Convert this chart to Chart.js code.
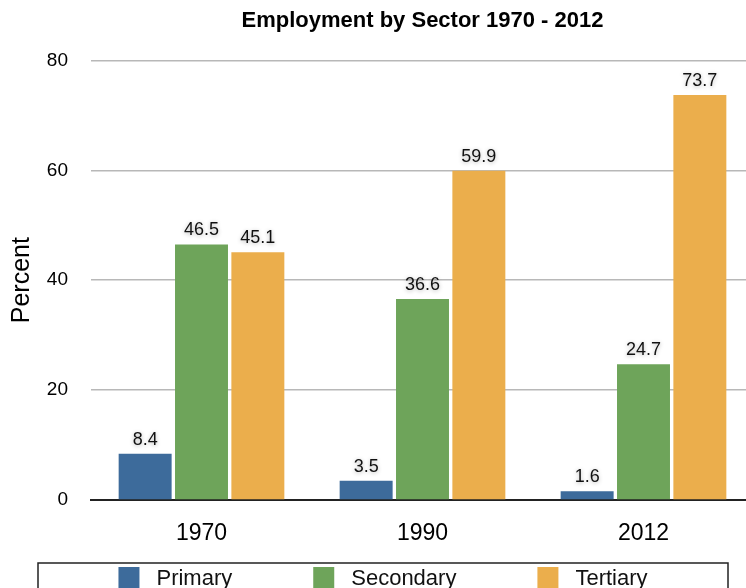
<!DOCTYPE html>
<html>
<head>
<meta charset="utf-8">
<script src="https://cdn.jsdelivr.net/npm/chart.js@4.4.1/dist/chart.umd.min.js"></script>
<style>
  html, body { margin: 0; padding: 0; overflow: hidden; background: #fff; }
  canvas { display: block; }
</style>
</head>
<body>
<canvas id="grafico" width="760" height="588"></canvas>
<script>
const years = ['1970', '1990', '2012'];
const sectors = ['Primary', 'Secondary', 'Tertiary'];
const primary = [8.4, 3.5, 1.6];
const secondary = [46.5, 36.6, 24.7];
const tertiary = [45.1, 59.9, 73.7];
const colores = ['#3d6b9b', '#6ea45a', '#ebae4c'];
const yTicks = [0, 20, 40, 60, 80];

const FONT = '"Liberation Sans", Arial, Helvetica, sans-serif';

// etiquetas de valor encima de cada barra
const valueLabels = {
    id: 'valueLabels',
    afterDatasetsDraw(chart) {
        const ctx = chart.ctx;
        ctx.save();
        ctx.font = '18px ' + FONT;
        ctx.fillStyle = '#111';
        ctx.textAlign = 'center';
        ctx.textBaseline = 'alphabetic';
        ctx.shadowColor = 'rgba(0,0,0,0.3)';
        ctx.shadowBlur = 4;
        ctx.shadowOffsetY = 1;
        chart.data.datasets.forEach((ds, i) => {
            chart.getDatasetMeta(i).data.forEach((bar, j) => {
                ctx.fillText(ds.data[j].toFixed(1), bar.x, bar.y - 9);
            });
        });
        ctx.restore();
    }
};

// leyenda con recuadro abajo
const boxLegend = {
    id: 'boxLegend',
    afterDraw(chart) {
        const ctx = chart.ctx;
        const left = 38, right = 728, top = 563;
        const box = 21, gap = 17, spacing = 81;
        ctx.save();
        ctx.strokeStyle = '#222';
        ctx.lineWidth = 1.5;
        ctx.strokeRect(left, top, right - left, 60);
        ctx.font = '22px ' + FONT;
        const widths = chart.data.datasets.map(ds => box + gap + ctx.measureText(ds.label).width);
        const total = widths.reduce((a, b) => a + b, 0) + spacing * (widths.length - 1);
        let x = (left + right) / 2 - total / 2;
        chart.data.datasets.forEach((ds, i) => {
            ctx.fillStyle = ds.backgroundColor;
            ctx.fillRect(x, top + 4, box, box);
            ctx.fillStyle = '#111';
            ctx.textAlign = 'left';
            ctx.textBaseline = 'middle';
            ctx.fillText(ds.label, x + box + gap, top + 16);
            x += widths[i] + spacing;
        });
        ctx.restore();
    }
};

const ctx = document.getElementById('grafico').getContext('2d');
new Chart(ctx, {
    type: 'bar',
    data: {
        labels: years,
        datasets: [
            { label: sectors[0], data: primary, backgroundColor: colores[0] },
            { label: sectors[1], data: secondary, backgroundColor: colores[1] },
            { label: sectors[2], data: tertiary, backgroundColor: colores[2] }
        ]
    },
    options: {
        responsive: false,
        animation: false,
        devicePixelRatio: 1,
        categoryPercentage: 0.765,
        barPercentage: 0.94,
        layout: { padding: { left: 0, right: 6, top: 0, bottom: 0 } },
        plugins: {
            legend: { display: false },
            tooltip: { enabled: false },
            title: {
                display: true,
                text: 'Employment by Sector 1970 - 2012',
                fullSize: false,
                color: '#000',
                font: { family: FONT, size: 22, weight: 'bold' },
                padding: { top: 8, bottom: 26 }
            }
        },
        scales: {
            x: {
                grid: { display: false },
                border: { display: true, color: '#222', width: 2 },
                ticks: { color: '#000', padding: 12, font: { family: FONT, size: 23 } },
                afterFit(scale) { scale.height = 88; }
            },
            y: {
                min: 0,
                max: 80,
                afterBuildTicks(scale) { scale.ticks = yTicks.map(v => ({ value: v })); },
                grid: {
                    drawTicks: false,
                    lineWidth: 1.5,
                    color: c => c.tick && c.tick.value === 0 ? 'rgba(0,0,0,0)' : '#b8b8b8'
                },
                border: { display: false },
                ticks: { color: '#000', padding: 23, font: { family: FONT, size: 19 } },
                title: {
                    display: true,
                    text: 'Percent',
                    color: '#000',
                    font: { family: FONT, size: 25 },
                    padding: { top: 7, bottom: 0 }
                },
                afterFit(scale) { scale.width = 91; }
            }
        }
    },
    plugins: [valueLabels, boxLegend]
});
</script>
</body>
</html>
